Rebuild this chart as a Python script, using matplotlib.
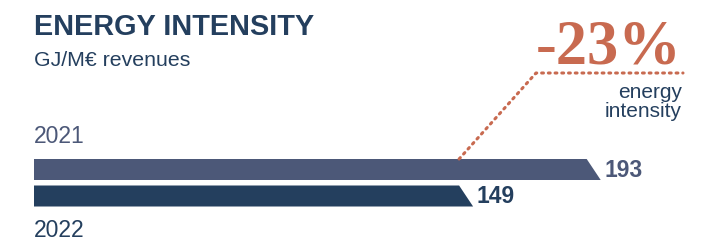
import matplotlib
matplotlib.use("Agg")
import matplotlib.pyplot as plt
from matplotlib.patches import Polygon

# ---- data ----
years = ["2021", "2022"]
values = [193, 149]
change_label = "-23%"
title = "ENERGY INTENSITY"
subtitle = "GJ/M€ revenues"
change_caption = "energy\nintensity"

# ---- style ----
W, H = 709, 242
DPI = 100
bar_colors = ["#4c5878", "#243f5e"]
label_colors = ["#4c5878", "#243f5e"]
navy = "#243f5e"
accent = "#c86a50"

plt.rcParams["font.family"] = ["Liberation Sans", "DejaVu Sans"]

fig = plt.figure(figsize=(W / DPI, H / DPI), dpi=DPI)
fig.patch.set_facecolor("white")

# axes: x=0 at pixel 34
x0_px, px_per_unit = 34, 2.9
ax_w_units = (W - x0_px) / px_per_unit
ax = fig.add_axes([x0_px / W, 0, 1 - x0_px / W, 1])
ax.set_xlim(0, ax_w_units)
row_px = 26.5
first_center_px = 169.5
top_val = -first_center_px / row_px
ax.set_ylim(top_val + H / row_px, top_val)
ax.axis("off")

def px2data(px, py):
    return ((px - x0_px) / px_per_unit, top_val + py / row_px)

bar_h = 21 / row_px
slant = 14 / px_per_unit
for i, (v, c) in enumerate(zip(values, bar_colors)):
    yt, yb = i - bar_h / 2, i + bar_h / 2
    poly = Polygon([(0, yt), (v - slant / 2, yt), (v + slant / 2, yb), (0, yb)],
                   closed=True, facecolor=c, edgecolor="none")
    ax.add_patch(poly)
    ax.text(v + slant / 2 + 1.3, i + 0.03, str(v), ha="left", va="center",
            fontsize=16.5, fontweight="bold", color=label_colors[i])

# year labels
ax.text(0, 0 - bar_h / 2 - 0.42, years[0], ha="left", va="bottom",
        fontsize=16.5, color=label_colors[0])
ax.text(0, 1 + bar_h / 2 + 0.48, years[1], ha="left", va="top",
        fontsize=16.5, color=label_colors[1])

# dotted connector
start = (values[1] - slant / 2, 0 - bar_h / 2)
knee = px2data(536, 73)
end = px2data(683, 73)
ax.plot([start[0], knee[0], end[0]], [start[1], knee[1], end[1]],
        linestyle=(0, (0.6, 1.6)), color=accent, linewidth=2.2,
        dash_capstyle="round", solid_capstyle="round")

# titles
fig.text(34 / W, 1 - 13 / H, title, ha="left", va="top", fontsize=20.8,
         fontweight="bold", color=navy)
fig.text(34 / W, 1 - 51 / H, subtitle, ha="left", va="top", fontsize=15.3,
         color=navy)

# change label
fig.text(682 / W, 1 - 63 / H, change_label, ha="right", va="baseline",
         fontsize=45, fontweight="bold", color=accent, family="Liberation Serif")
fig.text(682 / W, 1 - 83 / H, change_caption, ha="right", va="top",
         fontsize=15, color=navy, linespacing=1.0)

fig.savefig("out.png", dpi=DPI, facecolor="white")
